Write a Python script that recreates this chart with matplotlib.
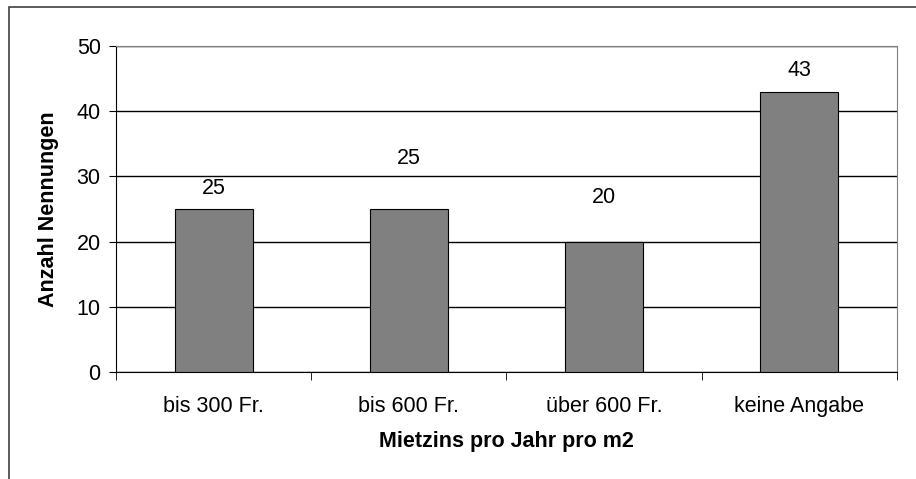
import numpy as np
import matplotlib.pyplot as plt
from matplotlib.patches import Rectangle

plt.rcParams['font.family'] = ['Liberation Sans', 'DejaVu Sans']

categories = ['bis 300 Fr.', 'bis 600 Fr.', 'über 600 Fr.', 'keine Angabe']
counts = [25, 25, 20, 43]
# label heights above the bars as placed in the original
label_offsets = [3.2, 7.8, 6.8, 3.3]

fs = 15.5

fig = plt.figure(figsize=(9.16, 4.79), dpi=100)
ax = fig.add_axes([116/916, 1 - 372/479, (897-116)/916, (372-46)/479])

x = np.arange(len(categories))
ax.bar(x, counts, width=0.4, color='#808080', edgecolor='black',
       linewidth=0.8, zorder=3)
for xi, c, off in zip(x, counts, label_offsets):
    ax.text(xi, c + off, str(c), ha='center', va='center', fontsize=fs)

ax.set_xlim(-0.5, 3.5)
ax.set_ylim(0, 50)
ax.set_yticks(range(0, 51, 10))
ax.yaxis.grid(True, color='black', linewidth=1, zorder=0)
ax.set_xticks(x)
ax.set_xticklabels(categories, fontsize=fs)
ax.set_xticks(np.arange(-0.5, 4, 1), minor=True)
ax.tick_params(axis='x', which='major', length=0, pad=17)
ax.tick_params(axis='x', which='minor', length=6, direction='out')
ax.tick_params(axis='y', length=5, direction='out', labelsize=fs, pad=6)

for s in ['top', 'right']:
    ax.spines[s].set_color('#808080')
for s in ['left', 'bottom']:
    ax.spines[s].set_color('black')

ax.set_xlabel('Mietzins pro Jahr pro m2', fontsize=fs, fontweight='bold',
              labelpad=10)
ax.set_ylabel('Anzahl Nennungen', fontsize=fs, fontweight='bold', labelpad=13)

# outer chart border
fig.patches.append(Rectangle((9/916, -0.1), 1.0, 1 - 7/479 + 0.1,
                             transform=fig.transFigure, fill=False,
                             edgecolor='#404040', linewidth=1.2))

fig.savefig('out.png', dpi=100)
